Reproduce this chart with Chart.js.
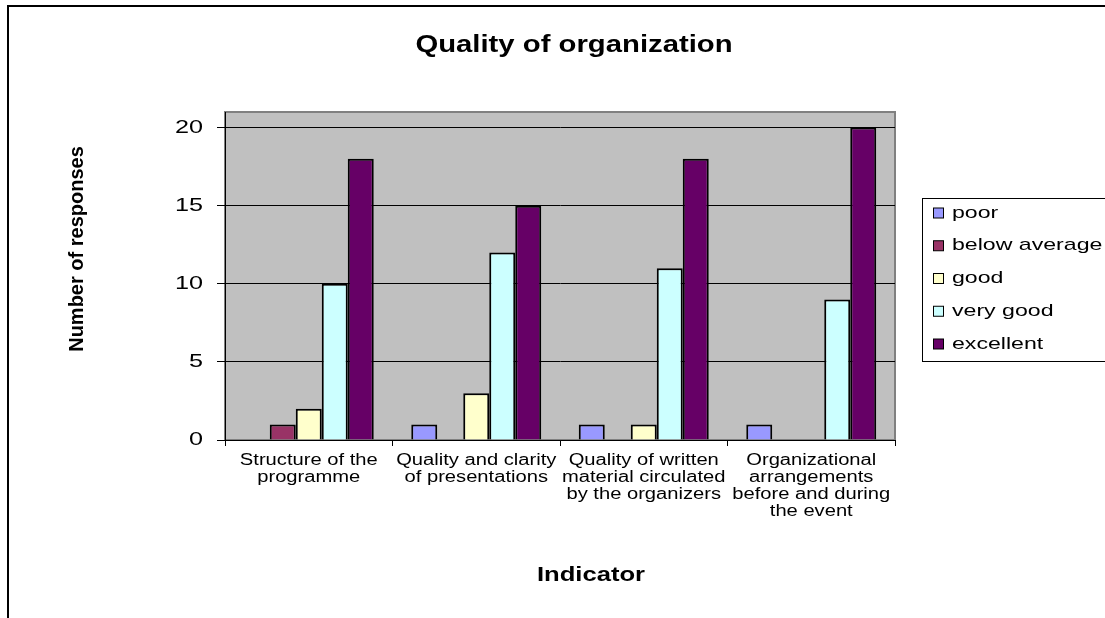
<!DOCTYPE html>
<html lang="en">
<head>
<meta charset="UTF-8">
<title>Quality of organization</title>
<script src="https://cdn.jsdelivr.net/npm/chart.js"></script>
<style>
    html, body {
        margin: 0;
        padding: 0;
        background: #fff;
    }

    #wrap {
        width: 1105px;
        height: 618px;
    }
</style>
</head>
<body>
<div id="wrap"><canvas id="chart" width="1105" height="618"></canvas></div>
<script>
// Data
const indicators = [
    ["Structure of the", "programme"],
    ["Quality and clarity", "of presentations"],
    ["Quality of written", "material circulated", "by the organizers"],
    ["Organizational", "arrangements", "before and during", "the event"]
];
const seriesNames = ["poor", "below average", "good", "very good", "excellent"];
const poor = [0, 1, 1, 1];
const belowAverage = [1, 0, 0, 0];
const good = [2, 3, 1, 0];
const veryGood = [10, 12, 11, 9];
const excellent = [18, 15, 18, 20];
const yTicks = [0, 5, 10, 15, 20];

const colours = ["#9999FF", "#993366", "#FFFFCC", "#CCFFFF", "#660066"];
const FONT = "'Liberation Sans', Arial, sans-serif";

// horizontal stretch of the tick labels (the original text is drawn wide)
const stretch = { x: 1.26, y: 1.4 };

function wideText(ctx, text, x, y, font, k, align, baseline) {
    ctx.save();
    ctx.font = font;
    ctx.textAlign = align;
    ctx.textBaseline = baseline;
    ctx.fillStyle = "#000";
    ctx.translate(x, y);
    ctx.scale(k, 1);
    ctx.fillText(text, 0, 0);
    ctx.restore();
}

const stretchTicks = {
    id: "stretchTicks",
    afterLayout(chart) {
        Object.values(chart.scales).forEach(scale => {
            if (scale._stretched) return;
            const drawLabels = scale.drawLabels;
            scale.drawLabels = function (area) {
                const ctx = this.ctx;
                const k = stretch[this.id] || 1;
                ctx.fillText = function (text, x, y) {
                    this.save();
                    this.translate(x, y);
                    this.scale(k, 1);
                    CanvasRenderingContext2D.prototype.fillText.call(this, text, 0, 0);
                    this.restore();
                };
                drawLabels.call(this, area);
                delete ctx.fillText;
            };
            scale._stretched = true;
        });
    }
};

// grey plot area with its border
const plotArea = {
    id: "plotArea",
    beforeDraw(chart) {
        const { ctx, chartArea: a } = chart;
        ctx.save();
        ctx.fillStyle = "#C0C0C0";
        ctx.fillRect(a.left, a.top, a.right - a.left, a.bottom - a.top);
        ctx.strokeStyle = "#808080";
        ctx.lineWidth = 2;
        ctx.strokeRect(a.left, a.top, a.right - a.left, a.bottom - a.top);
        ctx.restore();
    }
};

// outer frame, titles and legend
const decorations = {
    id: "decorations",
    afterDraw(chart) {
        const ctx = chart.ctx;
        ctx.save();
        ctx.strokeStyle = "#000";
        ctx.lineWidth = 2;
        ctx.beginPath();
        ctx.moveTo(8, 618);
        ctx.lineTo(8, 6);
        ctx.lineTo(1105, 6);
        ctx.stroke();
        ctx.restore();

        wideText(ctx, "Quality of organization", 574, 52, "bold 24px " + FONT, 1.22, "center", "alphabetic");
        wideText(ctx, "Indicator", 591, 581, "bold 20px " + FONT, 1.28, "center", "alphabetic");

        ctx.save();
        ctx.translate(77.5, 249);
        ctx.rotate(-Math.PI / 2);
        ctx.font = "bold 20px " + FONT;
        ctx.textAlign = "center";
        ctx.textBaseline = "middle";
        ctx.fillStyle = "#000";
        ctx.fillText("Number of responses", 0, 0);
        ctx.restore();

        // legend
        ctx.save();
        ctx.strokeStyle = "#000";
        ctx.lineWidth = 1;
        ctx.fillStyle = "#fff";
        ctx.fillRect(922.5, 198.5, 300, 163);
        ctx.strokeRect(922.5, 198.5, 300, 163);
        chart.data.datasets.forEach((ds, i) => {
            const cy = 213 + i * 32.75;
            ctx.fillStyle = ds.backgroundColor;
            ctx.fillRect(933.5, cy - 5, 10, 10);
            ctx.strokeRect(933.5, cy - 5, 10, 10);
            wideText(ctx, ds.label, 952, cy, "17px " + FONT, 1.36, "left", "middle");
        });
        ctx.restore();
    }
};

const series = [poor, belowAverage, good, veryGood, excellent];

new Chart(document.getElementById("chart"), {
    type: "bar",
    data: {
        labels: indicators,
        datasets: series.map((values, i) => ({
            label: seriesNames[i],
            data: values,
            backgroundColor: colours[i],
            borderColor: "#000",
            borderWidth: 2,
            categoryPercentage: 0.776,
            barPercentage: 1
        }))
    },
    options: {
        responsive: false,
        animation: false,
        devicePixelRatio: 1,
        layout: { padding: { left: 0, top: 112, right: 210, bottom: 0 } },
        plugins: {
            legend: { display: false },
            title: { display: false },
            tooltip: { enabled: false }
        },
        scales: {
            x: {
                grid: { drawOnChartArea: false, drawTicks: true, tickLength: 6, color: "#000" },
                border: { color: "#000", width: 1 },
                ticks: {
                    autoSkip: false,
                    maxRotation: 0,
                    minRotation: 0,
                    padding: 6,
                    color: "#000",
                    font: { family: FONT, size: 16, lineHeight: 17 / 16 }
                },
                afterFit(scale) { scale.height = 178; }
            },
            y: {
                min: 0,
                max: 21,
                grid: { color: "#000", lineWidth: 1, drawTicks: true, tickLength: 8 },
                border: { color: "#000", width: 1 },
                ticks: {
                    padding: 14,
                    color: "#000",
                    font: { family: FONT, size: 18 }
                },
                afterBuildTicks(scale) { scale.ticks = yTicks.map(v => ({ value: v })); },
                afterFit(scale) { scale.width = 225; }
            }
        }
    },
    plugins: [plotArea, stretchTicks, decorations]
});
</script>
</body>
</html>
